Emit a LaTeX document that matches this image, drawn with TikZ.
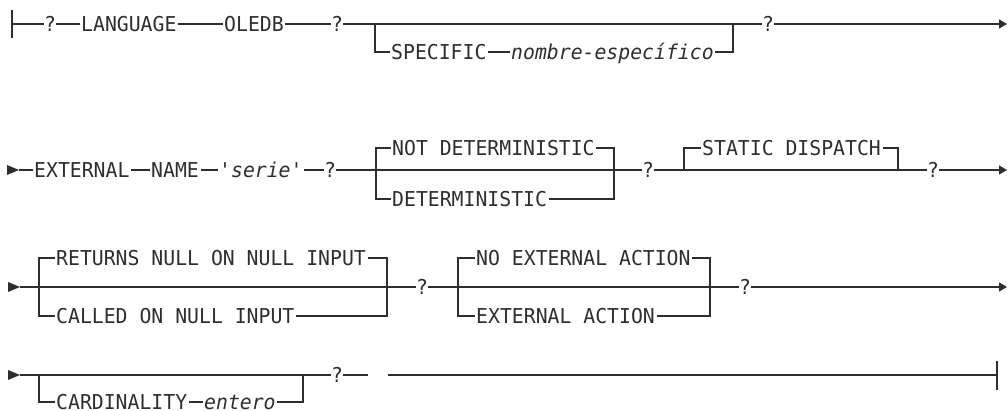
\documentclass[tikz,border=0pt]{standalone}
\usepackage{fontspec}
\setmonofont[FakeStretch=0.965]{DejaVu Sans Mono}
\usetikzlibrary{arrows.meta}
\definecolor{ink}{gray}{0.18}
\tikzset{
  kw/.style={font={\fontsize{20.5}{24}\selectfont\ttfamily}, text=ink, text height=14.5pt, text depth=0pt, inner xsep=1.5pt, inner ysep=0pt, anchor=west},
  q/.style={kw, inner xsep=0pt, anchor=center},
  ln/.style={line width=1.2pt, draw=ink},
  tail/.style={ln, -{Triangle[length=8pt,width=9pt]}},
  head/.style={fill=ink}
}
\begin{document}
\begin{tikzpicture}[x=1pt,y=-1pt]
\useasboundingbox (0,0) rectangle (1007,411);
% ---------- row 1 ----------
\coordinate (r1s) at (12,24);
\coordinate (bar1a) at (12,10);
\coordinate (bar1b) at (12,38);
\draw[ln] (bar1a) -- (bar1b);
\node[q] (q1) at (50,24) {?};
\node[kw] (lang) at (79.5,24) {LANGUAGE};
\node[kw] (oledb) at (222.5,24) {OLEDB};
\node[q] (q2) at (337,24) {?};
\coordinate (b1l) at (375,24);
\coordinate (b1r) at (733,24);
\node[kw] (spec) at (389.5,52) {SPECIFIC};
\node[kw] (nomb) at (509.5,52) {\itshape nombre-específico};
\node[q] (q3) at (768,24) {?};
\coordinate (r1e) at (1007,24);
\draw[ln] (r1s) -- (q1) -- (lang) -- (oledb) -- (q2) -- (q3);
\draw[ln] (b1l) |- (spec.west);
\draw[ln] (spec) -- (nomb);
\draw[ln] (nomb.east) -| (b1r);
\draw[tail] (q3) -- (r1e);
% ---------- row 2 ----------
\fill[head] (7,165) -- (19,170) -- (7,175) -- cycle;
\coordinate (r2s) at (19,170);
\node[kw] (ext) at (32.5,170) {EXTERNAL};
\node[kw] (name) at (149.5,170) {NAME};
\node[kw] (serie) at (217.5,170) {\itshape 'serie'};
\node[q] (q4) at (330,170) {?};
\coordinate (b2l) at (376,170);
\coordinate (b2r) at (614,170);
\node[kw] (notdet) at (390.5,148) {NOT DETERMINISTIC};
\node[kw] (det) at (390.5,199) {DETERMINISTIC};
\node[q] (q5) at (648,170) {?};
\coordinate (c2l) at (684,170);
\coordinate (c2r) at (898,170);
\node[kw] (static) at (700.5,148) {STATIC DISPATCH};
\node[q] (q6) at (933,170) {?};
\coordinate (r2e) at (1007,170);
\draw[ln] (r2s) -- (ext) -- (name) -- (serie) -- (q4) -- (q5) -- (q6);
\draw[ln] (b2l) |- (notdet.west);
\draw[ln] (notdet.east) -| (b2r);
\draw[ln] (b2l) |- (det.west);
\draw[ln] (det.east) -| (b2r);
\draw[ln] (c2l) |- (static.west);
\draw[ln] (static.east) -| (c2r);
\draw[tail] (q6) -- (r2e);
% ---------- row 3 ----------
\fill[head] (8,282) -- (20,287) -- (8,292) -- cycle;
\coordinate (r3s) at (20,287);
\coordinate (b3l) at (39,287);
\coordinate (b3r) at (387,287);
\node[kw] (ret) at (54.5,258) {RETURNS NULL ON NULL INPUT};
\node[kw] (call) at (54.5,316) {CALLED ON NULL INPUT};
\node[q] (q7) at (422,287) {?};
\coordinate (c3l) at (458,287);
\coordinate (c3r) at (710,287);
\node[kw] (noext) at (474.5,258) {NO EXTERNAL ACTION};
\node[kw] (extact) at (474.5,316) {EXTERNAL ACTION};
\node[q] (q8) at (745,287) {?};
\coordinate (r3e) at (1007,287);
\draw[ln] (r3s) -- (q7) -- (q8);
\draw[ln] (b3l) |- (ret.west);
\draw[ln] (ret.east) -| (b3r);
\draw[ln] (b3l) |- (call.west);
\draw[ln] (call.east) -| (b3r);
\draw[ln] (c3l) |- (noext.west);
\draw[ln] (noext.east) -| (c3r);
\draw[ln] (c3l) |- (extact.west);
\draw[ln] (extact.east) -| (c3r);
\draw[tail] (q8) -- (r3e);
% ---------- row 4 ----------
\fill[head] (8,370) -- (20,375) -- (8,380) -- cycle;
\coordinate (r4s) at (20,375);
\coordinate (b4l) at (39,375);
\coordinate (b4r) at (303,375);
\node[kw] (card) at (54.5,402) {CARDINALITY};
\node[kw] (ent) at (202.5,402) {\itshape entero};
\node[q] (q9) at (337,375) {?};
\coordinate (g1) at (368,375);
\coordinate (g2) at (388,375);
\coordinate (r4e) at (997,375);
\coordinate (bar4a) at (997,361);
\coordinate (bar4b) at (997,390);
\draw[ln] (r4s) -- (q9) -- (g1);
\draw[ln] (g2) -- (r4e);
\draw[ln] (bar4a) -- (bar4b);
\draw[ln] (b4l) |- (card.west);
\draw[ln] (card) -- (ent);
\draw[ln] (ent.east) -| (b4r);
\end{tikzpicture}
\end{document}
